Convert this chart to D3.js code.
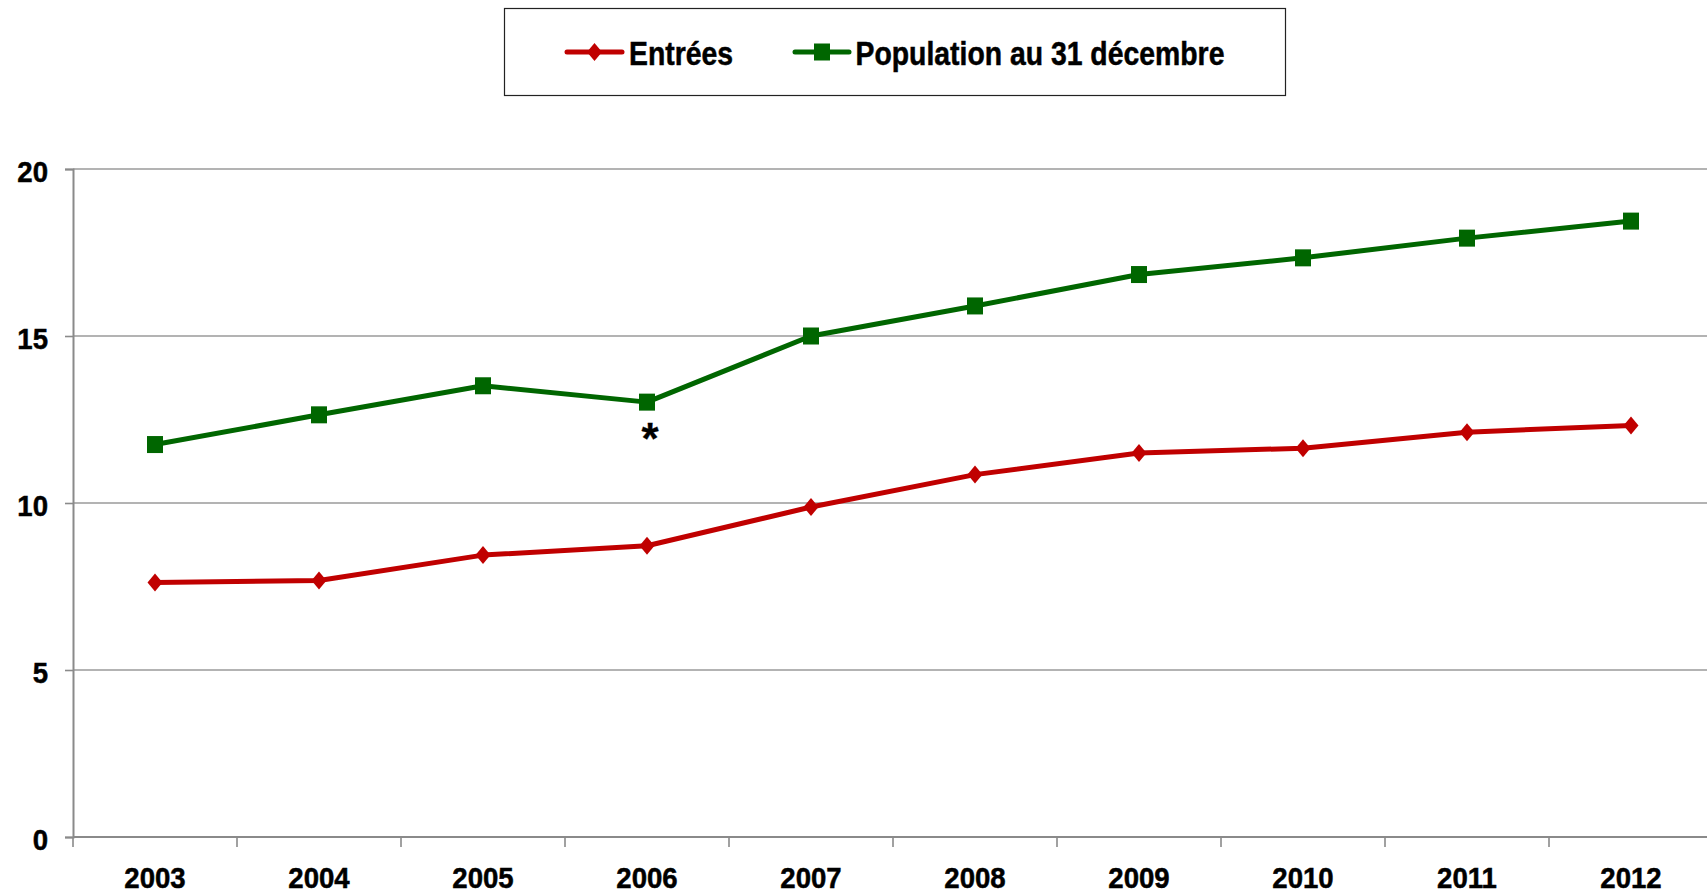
<!DOCTYPE html>
<html>
<head>
<meta charset="utf-8">
<script src="https://cdn.jsdelivr.net/npm/d3@7"></script>
<style>
  html, body { margin: 0; padding: 0; background: #fff; }
  svg { display: block; }
  text { font-family: "Liberation Sans", Arial, sans-serif; font-weight: bold; fill: #000; }
</style>
</head>
<body>
<svg id="chart" width="1707" height="896"></svg>
<script>
const years = ["2003","2004","2005","2006","2007","2008","2009","2010","2011","2012"];
const entrees = [7.62, 7.68, 8.44, 8.72, 9.88, 10.85, 11.5, 11.64, 12.12, 12.32];
const population = [11.75, 12.64, 13.51, 13.02, 15.0, 15.9, 16.84, 17.34, 17.93, 18.44];
const yTicks = [0, 5, 10, 15, 20];
const seriesNames = ["Entrées", "Population au 31 décembre"];
const noteYear = "2006";
const noteText = "*";

const W = 1707, H = 896;
const svg = d3.select("#chart");
const x = d3.scaleBand().domain(years).range([73, 1713]).padding(0);
const y = d3.scaleLinear().domain([0, 20]).range([837, 169]);
const sx = 0.92;
const red = "#C00000", green = "#006600", grid = "#9a9a9a", axisCol = "#8a8a8a";

function boldText(sel, size) {
  sel.style("font-size", size + "px")
     .style("font-family", "'Liberation Sans', Arial, sans-serif")
     .style("font-weight", "bold")
     .attr("fill", "#000").attr("stroke", "#000").attr("stroke-width", 0.5);
}

// gridlines
svg.append("g").selectAll("line").data(yTicks.filter(d => d > 0)).join("line")
  .attr("x1", 73).attr("x2", W).attr("y1", d => y(d)).attr("y2", d => y(d))
  .attr("stroke", grid).attr("stroke-width", 1.6);

// y axis
const yAxis = svg.append("g").attr("transform", "translate(73,0)")
  .call(d3.axisLeft(y).tickValues(yTicks).tickSize(8).tickFormat(d3.format("d")));
yAxis.select(".domain").attr("stroke", axisCol).attr("stroke-width", 2);
yAxis.selectAll(".tick line").attr("stroke", axisCol).attr("stroke-width", 1.6);
yAxis.selectAll(".tick text")
  .attr("x", -25 / sx).attr("dy", "0.36em").attr("y", 2)
  .attr("transform", `scale(${sx},1)`)
  .call(boldText, 30);

// x axis
const xAxis = svg.append("g").attr("transform", `translate(0,${y(0)})`)
  .call(d3.axisBottom(x).tickSize(0).tickPadding(0));
xAxis.select(".domain").remove();
xAxis.selectAll(".tick text")
  .attr("y", 51).attr("dy", 0)
  .attr("transform", `scale(${sx},1)`)
  .call(boldText, 30);
svg.append("line").attr("x1", 73).attr("x2", W).attr("y1", y(0)).attr("y2", y(0))
  .attr("stroke", axisCol).attr("stroke-width", 2);
svg.append("g").selectAll("line").data(years).join("line")
  .attr("x1", d => x(d)).attr("x2", d => x(d))
  .attr("y1", y(0)).attr("y2", y(0) + 10)
  .attr("stroke", axisCol).attr("stroke-width", 1.6);

const cx = d => x(d) + x.bandwidth() / 2;
const line = d3.line().x(d => cx(d[0])).y(d => y(d[1]));

const diamond = (px, py) => `M${px},${py-9}L${px+7.5},${py}L${px},${py+9}L${px-7.5},${py}Z`;

function drawSeries(values, color, shape) {
  const pts = years.map((yr, i) => [yr, values[i]]);
  svg.append("path").datum(pts).attr("d", line)
    .attr("fill", "none").attr("stroke", color).attr("stroke-width", 5)
    .attr("stroke-linejoin", "round");
  const g = svg.append("g");
  if (shape === "square") {
    g.selectAll("rect").data(pts).join("rect")
      .attr("x", d => cx(d[0]) - 8).attr("y", d => y(d[1]) - 8.5)
      .attr("width", 16).attr("height", 17).attr("fill", color);
  } else {
    g.selectAll("path").data(pts).join("path")
      .attr("d", d => diamond(cx(d[0]), y(d[1])))
      .attr("fill", color);
  }
}
drawSeries(entrees, red, "diamond");
drawSeries(population, green, "square");

// note asterisk
const ni = years.indexOf(noteYear);
svg.append("text").attr("x", cx(noteYear) + 3).attr("y", y(population[ni]) + 52)
  .attr("text-anchor", "middle").call(boldText, 44).attr("stroke-width", 0.3).text(noteText);

// legend
const lg = svg.append("g");
lg.append("rect").attr("x", 504.5).attr("y", 8.5).attr("width", 781).attr("height", 87)
  .attr("fill", "#fff").attr("stroke", "#222").attr("stroke-width", 1.2);
const legendItems = [
  { name: seriesNames[0], color: red, shape: "diamond", x1: 567, x2: 622, tx: 629 },
  { name: seriesNames[1], color: green, shape: "square", x1: 795, x2: 849, tx: 855.5 }
];
const ly = 52;
const lsx = 0.86;
legendItems.forEach(it => {
  lg.append("line").attr("x1", it.x1).attr("x2", it.x2).attr("y1", ly).attr("y2", ly)
    .attr("stroke", it.color).attr("stroke-width", 5).attr("stroke-linecap", "round");
  const mx = (it.x1 + it.x2) / 2;
  if (it.shape === "square") {
    lg.append("rect").attr("x", mx - 8).attr("y", ly - 8.5).attr("width", 16).attr("height", 17).attr("fill", it.color);
  } else {
    lg.append("path").attr("d", diamond(mx, ly)).attr("fill", it.color);
  }
  lg.append("text").attr("transform", `translate(${it.tx},64.5) scale(${lsx},1)`)
    .call(boldText, 33).text(it.name);
});
</script>
</body>
</html>
